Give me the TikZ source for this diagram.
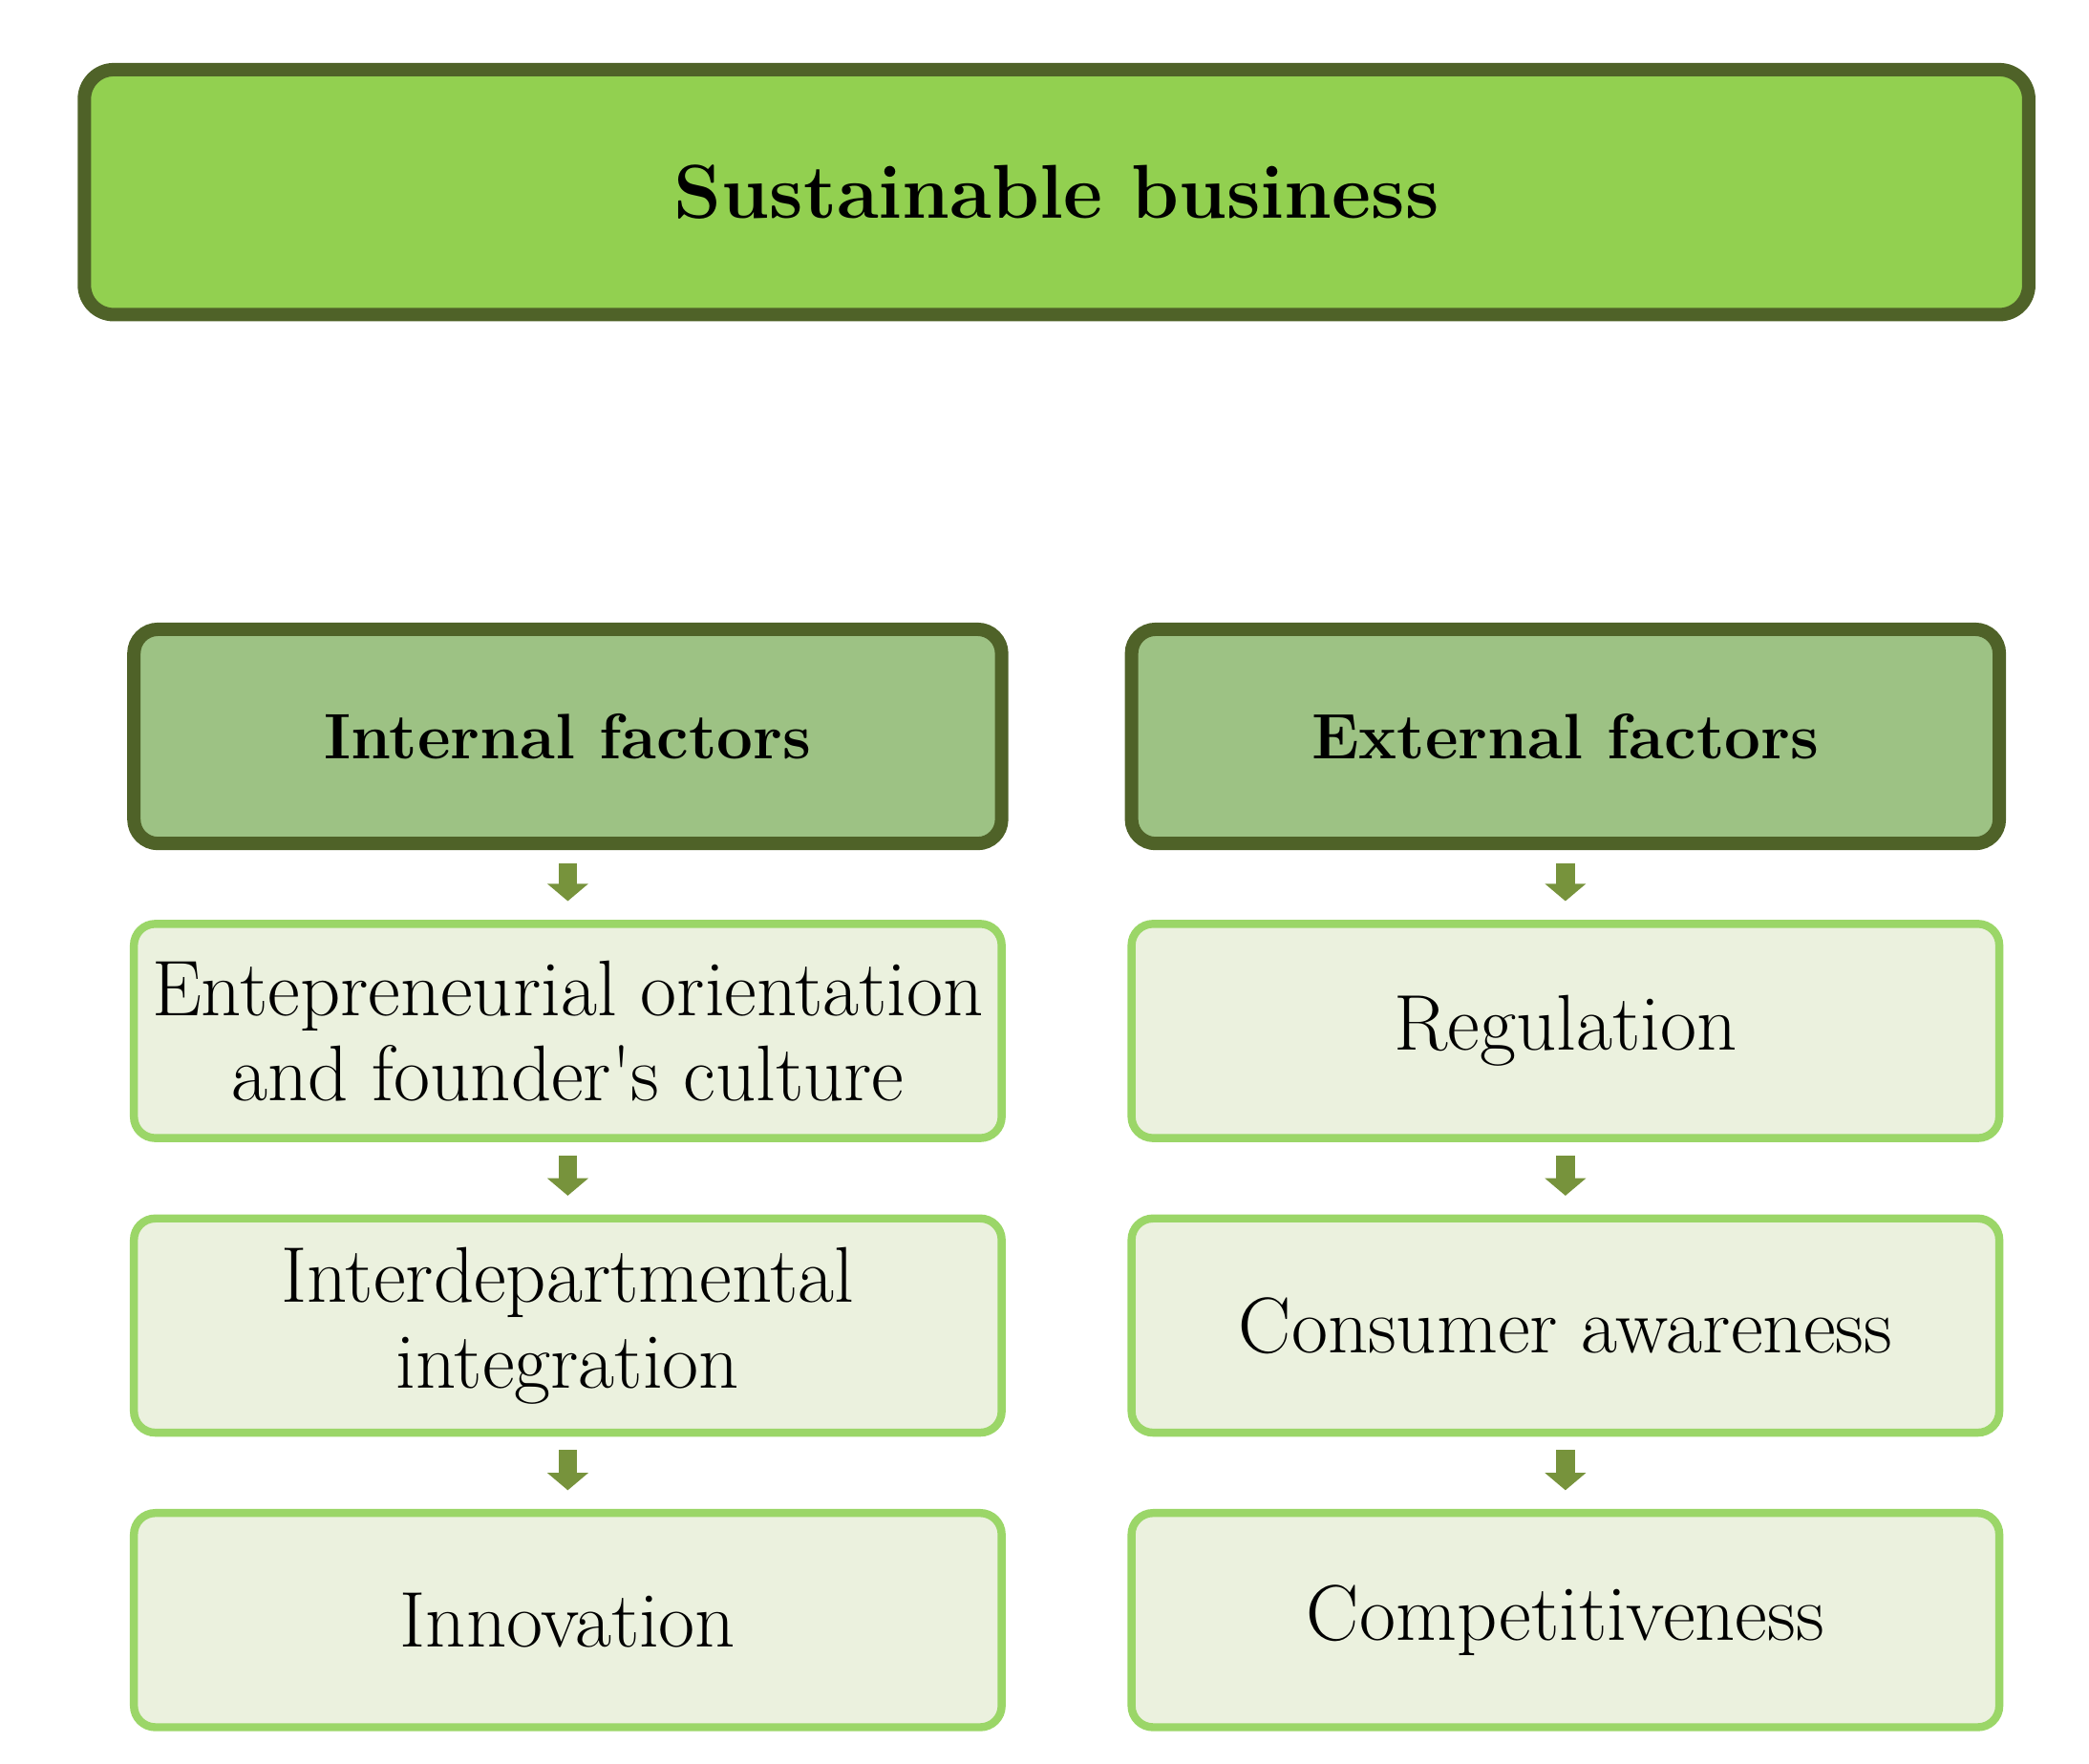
\documentclass[tikz,border=0pt]{standalone}
\usetikzlibrary{arrows.meta}
\usepackage{textcomp}
\definecolor{dk}{HTML}{4F6228}
\definecolor{topf}{HTML}{92D050}
\definecolor{midf}{HTML}{9DC284}
\definecolor{lb}{HTML}{9BD668}
\definecolor{lf}{HTML}{EBF1DE}
\definecolor{ar}{HTML}{77933C}
\tikzset{
 topbox/.style={draw=dk,line width=10pt,fill=topf,rounded corners=22pt,minimum width=1452pt,minimum height=183pt,font=\fontsize{57}{60}\selectfont\bfseries},
 headbox/.style={draw=dk,line width=10pt,fill=midf,rounded corners=18pt,minimum width=648pt,minimum height=160pt,font=\fontsize{48}{60}\selectfont\bfseries},
 itembox/.style={draw=lb,line width=6pt,fill=lf,rounded corners=16pt,minimum width=648pt,minimum height=160pt,align=center,inner xsep=2pt,font=\fontsize{59}{64}\selectfont},
 arr/.style={draw=ar,line width=14pt,-{Triangle[width=30pt,length=13pt]},shorten <=10pt,shorten >=14pt}
}
\begin{document}
\begin{tikzpicture}[x=1pt,y=-1pt]
\useasboundingbox (0,0) rectangle (1560,1317);
\node[topbox] (top) at (789,143.5) {Sustainable business};
\node[headbox] (int) at (424,550) {Internal factors};
\node[headbox] (ext) at (1169,550) {External factors};
\node[itembox] (i1) at (424,770) {Entepreneurial orientation\\and founder\textquotesingle s culture};
\node[itembox] (i2) at (424,990) {Interdepartmental\\integration};
\node[itembox] (i3) at (424,1210) {Innovation};
\node[itembox] (e1) at (1169,770) {Regulation};
\node[itembox] (e2) at (1169,990) {Consumer awareness};
\node[itembox] (e3) at (1169,1210) {Competitiveness};
\draw[arr] (int) -- (i1);
\draw[arr] (i1) -- (i2);
\draw[arr] (i2) -- (i3);
\draw[arr] (ext) -- (e1);
\draw[arr] (e1) -- (e2);
\draw[arr] (e2) -- (e3);
\end{tikzpicture}
\end{document}
